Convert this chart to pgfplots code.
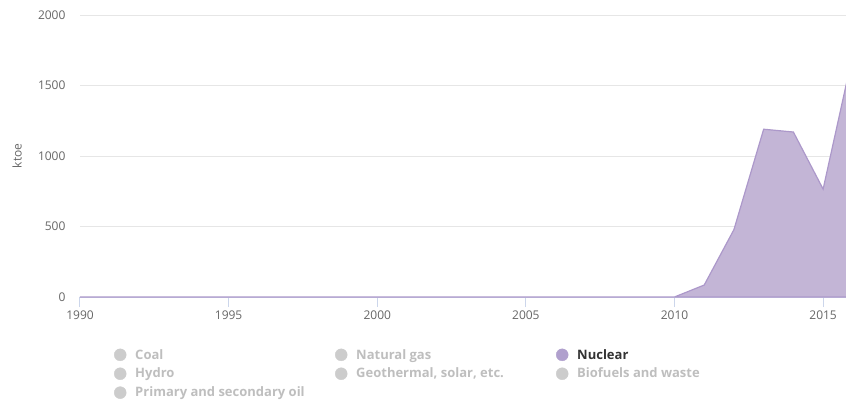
\documentclass[border=0pt]{standalone}
\usepackage{pgfplots}
\pgfplotsset{compat=1.18}
\usepackage{fontspec}
\setmainfont{Open Sans}
\definecolor{areafill}{RGB}{195,181,214}
\definecolor{arealine}{RGB}{172,152,202}
\definecolor{nucdot}{RGB}{176,160,205}
\definecolor{graydot}{RGB}{204,204,204}
\definecolor{graytext}{RGB}{190,190,190}
\definecolor{ticktext}{RGB}{102,102,102}
\definecolor{gridc}{RGB}{230,230,230}
\definecolor{axisc}{RGB}{204,214,235}
\begin{document}
\begin{tikzpicture}[x=1pt,y=1pt]
\path[use as bounding box] (0,0) rectangle (846,402);
\begin{axis}[
  at={(80pt,105pt)}, anchor=south west,
  scale only axis, width=766pt, height=282pt,
  xmin=1990, xmax=2015.77, ymin=0, ymax=2000,
  xtick={1990,1995,2000,2005,2010,2015},
  ytick={0,500,1000,1500,2000},
  xticklabel style={font=\fontsize{12}{14}\selectfont, text=ticktext},
  yticklabel style={font=\fontsize{12}{14}\selectfont, text=ticktext, xshift=-11pt},
  /pgf/number format/assume math mode=true,
  /pgf/number format/1000 sep={},
  axis lines*=left,
  x axis line style={draw=axisc, line width=1pt},
  y axis line style={draw=none},
  xtick align=outside, major tick length=10pt,
  xtick style={draw=axisc, line width=1pt},
  ytick style={draw=none},
  ymajorgrids, grid style={draw=gridc, line width=0.8pt},
  ylabel={ktoe},
  ylabel style={font=\fontsize{12}{14}\selectfont, text=ticktext, at={(axis description cs:-0.082,0.5)}, anchor=center},
  legend columns=3,
  legend cell align=left,
  legend style={draw=none, fill=none, at={(axis description cs:0.0405,-0.17)}, anchor=north west,
    font=\fontsize{13}{15}\selectfont\bfseries, row sep=3.5pt,
    /tikz/every odd column/.style={column sep=7pt}},
  clip=true,
]
\addplot[fill=areafill, draw=arealine, line width=1.2pt, forget plot] coordinates {
(1990,0) (1991,0) (1992,0) (1993,0) (1994,0) (1995,0) (1996,0) (1997,0) (1998,0) (1999,0)
(2000,0) (2001,0) (2002,0) (2003,0) (2004,0) (2005,0) (2006,0) (2007,0) (2008,0) (2009,0)
(2010,0) (2011,85) (2012,478) (2013,1190) (2014,1170) (2015,765) (2016,1720)
} \closedcycle;
\addlegendimage{only marks, mark=*, mark size=6pt, draw=graydot, fill=graydot}
\addlegendentry{\makebox[198pt][l]{\textcolor{graytext}{Coal}}}
\addlegendimage{only marks, mark=*, mark size=6pt, draw=graydot, fill=graydot}
\addlegendentry{\makebox[198pt][l]{\textcolor{graytext}{Natural gas}}}
\addlegendimage{only marks, mark=*, mark size=6pt, draw=nucdot, fill=nucdot}
\addlegendentry{\makebox[198pt][l]{\textcolor[RGB]{51,51,51}{Nuclear}}}
\addlegendimage{only marks, mark=*, mark size=6pt, draw=graydot, fill=graydot}
\addlegendentry{\makebox[198pt][l]{\textcolor{graytext}{Hydro}}}
\addlegendimage{only marks, mark=*, mark size=6pt, draw=graydot, fill=graydot}
\addlegendentry{\makebox[198pt][l]{\textcolor{graytext}{Geothermal, solar, etc.}}}
\addlegendimage{only marks, mark=*, mark size=6pt, draw=graydot, fill=graydot}
\addlegendentry{\makebox[198pt][l]{\textcolor{graytext}{Biofuels and waste}}}
\addlegendimage{only marks, mark=*, mark size=6pt, draw=graydot, fill=graydot}
\addlegendentry{\makebox[198pt][l]{\textcolor{graytext}{Primary and secondary oil}}}
\end{axis}
\end{tikzpicture}
\end{document}
